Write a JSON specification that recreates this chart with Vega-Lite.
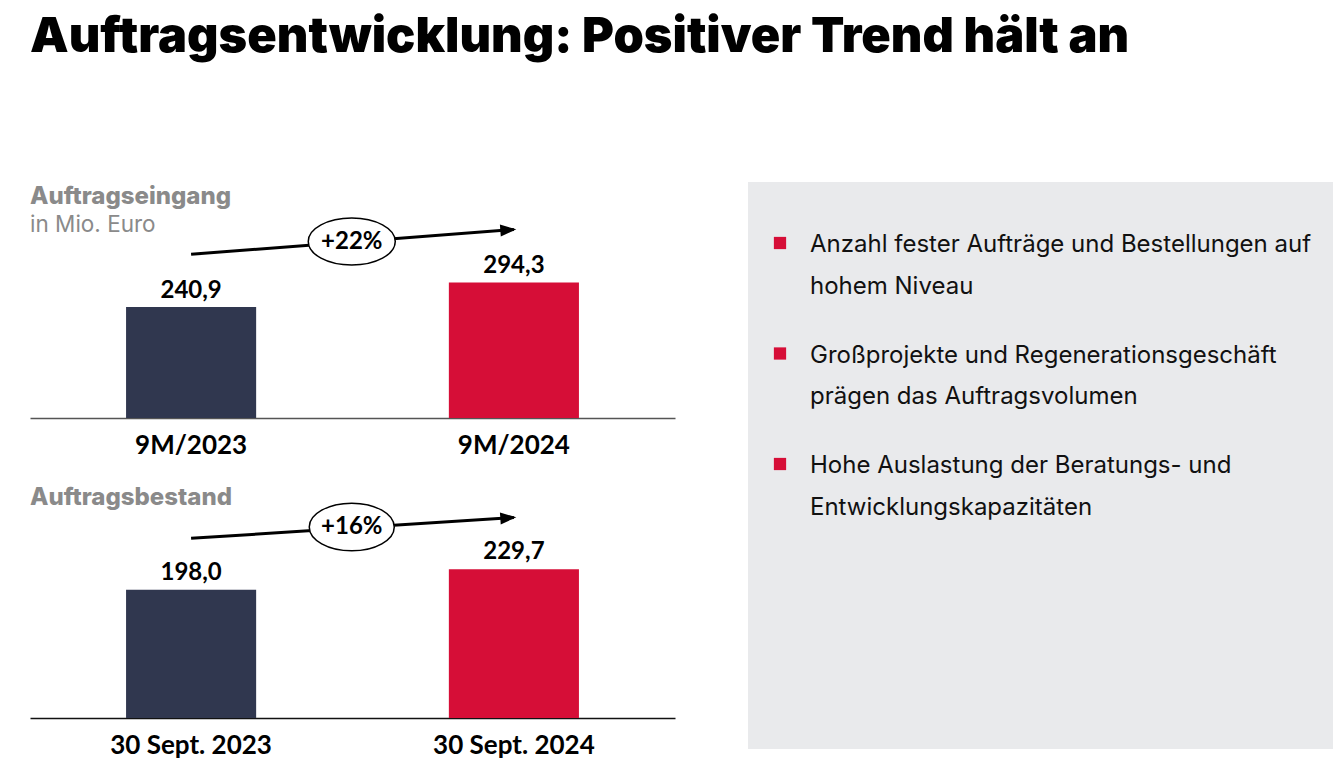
{
  "$schema": "https://vega.github.io/schema/vega-lite/v6.json",
  "background": "white",
  "padding": {"left": 30, "top": 13, "right": 0, "bottom": 0},
  "title": {"text": "Auftragsentwicklung: Positiver Trend hält an", "anchor": "start", "font": "Inter", "fontSize": 48.7, "fontWeight": 900, "color": "#000000", "offset": 119},
  "spacing": 73,
  "hconcat": [
    {
      "spacing": 28,
      "vconcat": [
        {
          "width": 645,
          "height": 236,
          "title": {"text": "Auftragseingang", "subtitle": "in Mio. Euro", "anchor": "start", "frame": "group", "font": "Inter", "fontSize": 24, "fontWeight": 800, "color": "#8a8a8a", "subtitleFont": "Inter", "subtitleFontSize": 22.5, "subtitleFontWeight": "normal", "subtitleColor": "#8a8a8a", "subtitlePadding": 5, "offset": -54},
          "data": {"values": [
            {"period": "9M/2023", "value": 240.9, "label": "240,9"},
            {"period": "9M/2024", "value": 294.3, "label": "294,3"}
          ]},
          "encoding": {
            "x": {"field": "period", "type": "nominal", "scale": {"paddingInner": 0.597, "paddingOuter": 0.2976},
              "axis": {"title": null, "labelAngle": 0, "ticks": false, "tickSize": 0, "labelPadding": 14, "labelFont": "Lato", "labelFontSize": 26, "labelFontWeight": 700, "labelColor": "#000000", "domainColor": "#555555", "domainWidth": 1.5, "grid": false}}
          },
          "layer": [
            {"mark": {"type": "bar"},
             "encoding": {
               "y": {"field": "value", "type": "quantitative", "scale": {"domain": [0, 512.2], "nice": false}, "axis": null},
               "color": {"field": "period", "type": "nominal", "scale": {"range": ["#30374f", "#d60e37"]}, "legend": null}}},
            {"mark": {"type": "text", "baseline": "alphabetic", "dy": -9.3, "font": "Lato", "fontSize": 24, "fontWeight": 700, "color": "#000000"},
             "encoding": {"y": {"field": "value", "type": "quantitative"}, "text": {"field": "label"}}},
            {"data": {"values": [{"from": "9M/2023", "to": "9M/2024", "change": "+22%"}]},
             "layer": [
               {"mark": {"type": "rule", "strokeWidth": 3, "color": "#000000"},
                "encoding": {"x": {"field": "from", "type": "nominal"}, "x2": {"field": "to"}, "y": {"datum": 355.2, "type": "quantitative"}, "y2": {"datum": 409}}},
               {"mark": {"type": "point", "shape": "M0.3,0L-1.7,-0.75L-1.7,0.75Z", "filled": true, "color": "#000000", "opacity": 1, "size": 256, "angle": 355.6},
                "encoding": {"x": {"field": "to", "type": "nominal"}, "y": {"datum": 409, "type": "quantitative"}}},
               {"mark": {"type": "point", "shape": "M-1,0A1,0.54,0,1,0,1,0A1,0.54,0,1,0,-1,0Z", "filled": true, "fill": "#ffffff", "stroke": "#000000", "strokeWidth": 1.5, "opacity": 1, "size": 7569},
                "encoding": {"x": {"field": "from", "type": "nominal", "bandPosition": 1.735}, "y": {"datum": 383, "type": "quantitative"}}},
               {"mark": {"type": "text", "baseline": "middle", "font": "Lato", "fontSize": 24, "fontWeight": 700, "color": "#000000"},
                "encoding": {"x": {"field": "from", "type": "nominal", "bandPosition": 1.735}, "y": {"datum": 383, "type": "quantitative"}, "text": {"field": "change"}}}
             ]}
          ]
        },
        {
          "width": 645,
          "height": 208,
          "title": {"text": "Auftragsbestand", "anchor": "start", "frame": "group", "font": "Inter", "fontSize": 24, "fontWeight": 800, "color": "#8a8a8a", "offset": -10},
          "data": {"values": [
            {"period": "30 Sept. 2023", "value": 198.0, "label": "198,0"},
            {"period": "30 Sept. 2024", "value": 229.7, "label": "229,7"}
          ]},
          "encoding": {
            "x": {"field": "period", "type": "nominal", "scale": {"paddingInner": 0.597, "paddingOuter": 0.2976},
              "axis": {"title": null, "labelAngle": 0, "ticks": false, "tickSize": 0, "labelPadding": 14, "labelFont": "Lato", "labelFontSize": 26, "labelFontWeight": 700, "labelColor": "#000000", "domainColor": "#111111", "domainWidth": 1.5, "grid": false}}
          },
          "layer": [
            {"mark": {"type": "bar"},
             "encoding": {
               "y": {"field": "value", "type": "quantitative", "scale": {"domain": [0, 321], "nice": false}, "axis": null},
               "color": {"field": "period", "type": "nominal", "scale": {"range": ["#30374f", "#d60e37"]}, "legend": null}}},
            {"mark": {"type": "text", "baseline": "alphabetic", "dy": -9.7, "font": "Lato", "fontSize": 24, "fontWeight": 700, "color": "#000000"},
             "encoding": {"y": {"field": "value", "type": "quantitative"}, "text": {"field": "label"}}},
            {"data": {"values": [{"from": "30 Sept. 2023", "to": "30 Sept. 2024", "change": "+16%"}]},
             "layer": [
               {"mark": {"type": "rule", "strokeWidth": 3, "color": "#000000"},
                "encoding": {"x": {"field": "from", "type": "nominal"}, "x2": {"field": "to"}, "y": {"datum": 277.3, "type": "quantitative"}, "y2": {"datum": 309.4}}},
               {"mark": {"type": "point", "shape": "M0.3,0L-1.7,-0.75L-1.7,0.75Z", "filled": true, "color": "#000000", "opacity": 1, "size": 256, "angle": 356.3},
                "encoding": {"x": {"field": "to", "type": "nominal"}, "y": {"datum": 309.4, "type": "quantitative"}}},
               {"mark": {"type": "point", "shape": "M-1,0A1,0.56,0,1,0,1,0A1,0.56,0,1,0,-1,0Z", "filled": true, "fill": "#ffffff", "stroke": "#000000", "strokeWidth": 1.5, "opacity": 1, "size": 7225},
                "encoding": {"x": {"field": "from", "type": "nominal", "bandPosition": 1.735}, "y": {"datum": 294.8, "type": "quantitative"}}},
               {"mark": {"type": "text", "baseline": "middle", "font": "Lato", "fontSize": 24, "fontWeight": 700, "color": "#000000"},
                "encoding": {"x": {"field": "from", "type": "nominal", "bandPosition": 1.735}, "y": {"datum": 294.8, "type": "quantitative"}, "text": {"field": "change"}}}
             ]}
          ]
        }
      ]
    },
    {
      "width": 585,
      "height": 567,
      "view": {"fill": "#e9eaec", "stroke": null},
      "data": {"values": [
        {"nr": 1, "text": "Anzahl fester Aufträge und Bestellungen auf\nhohem Niveau"},
        {"nr": 2, "text": "Großprojekte und Regenerationsgeschäft\nprägen das Auftragsvolumen"},
        {"nr": 3, "text": "Hohe Auslastung der Beratungs- und\nEntwicklungskapazitäten"}
      ]},
      "encoding": {
        "y": {"field": "nr", "type": "ordinal", "scale": {"type": "point", "padding": 0, "range": [61, 282]}, "axis": null}
      },
      "layer": [
        {"mark": {"type": "point", "shape": "square", "filled": true, "size": 150, "color": "#d60e37", "opacity": 1},
         "encoding": {"x": {"datum": "Marker", "type": "nominal", "scale": {"type": "point", "domain": ["Marker", "Text"], "padding": 0, "range": [32, 62]}, "axis": null}}},
        {"mark": {"type": "text", "align": "left", "baseline": "alphabetic", "dy": 9, "lineBreak": "\n", "lineHeight": 41.7, "font": "Inter", "fontSize": 24, "color": "#111111"},
         "encoding": {"x": {"datum": "Text", "type": "nominal"}, "text": {"field": "text"}}}
      ]
    }
  ],
  "config": {"view": {"stroke": null}, "font": "Lato"}
}
